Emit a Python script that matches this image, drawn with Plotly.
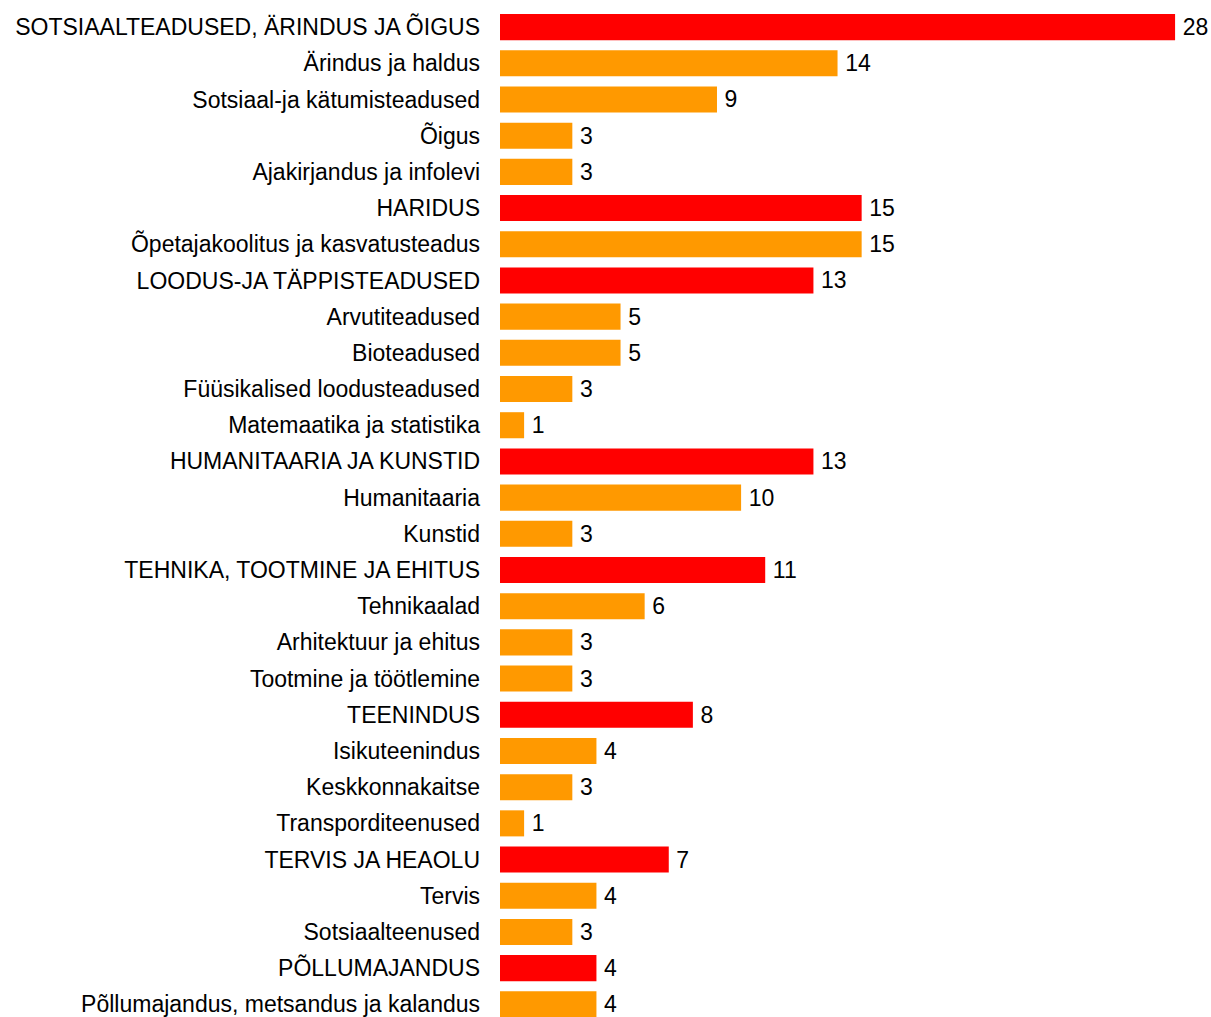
import plotly.graph_objects as go

categories = [
    "SOTSIAALTEADUSED, ÄRINDUS JA ÕIGUS",
    "Ärindus ja haldus",
    "Sotsiaal-ja kätumisteadused",
    "Õigus",
    "Ajakirjandus ja infolevi",
    "HARIDUS",
    "Õpetajakoolitus ja kasvatusteadus",
    "LOODUS-JA TÄPPISTEADUSED",
    "Arvutiteadused",
    "Bioteadused",
    "Füüsikalised loodusteadused",
    "Matemaatika ja statistika",
    "HUMANITAARIA JA KUNSTID",
    "Humanitaaria",
    "Kunstid",
    "TEHNIKA, TOOTMINE JA EHITUS",
    "Tehnikaalad",
    "Arhitektuur ja ehitus",
    "Tootmine ja töötlemine",
    "TEENINDUS",
    "Isikuteenindus",
    "Keskkonnakaitse",
    "Transporditeenused",
    "TERVIS JA HEAOLU",
    "Tervis",
    "Sotsiaalteenused",
    "PÕLLUMAJANDUS",
    "Põllumajandus, metsandus ja kalandus",
]
values = [28, 14, 9, 3, 3, 15, 15, 13, 5, 5, 3, 1, 13, 10, 3, 11, 6, 3, 3, 8, 4, 3, 1, 7, 4, 3, 4, 4]
is_main = [1, 0, 0, 0, 0, 1, 0, 1, 0, 0, 0, 0, 1, 0, 0, 1, 0, 0, 0, 1, 0, 0, 0, 1, 0, 0, 1, 0]

RED = "#FF0000"
ORANGE = "#FF9900"
colors = [RED if m else ORANGE for m in is_main]
FONT = "Liberation Sans, Arial, sans-serif"

fig = go.Figure(go.Bar(
    x=values,
    y=categories,
    orientation="h",
    marker=dict(color=colors, line=dict(width=0)),
    text=["\u2009" + str(v) for v in values],
    textposition="outside",
    cliponaxis=False,
    textfont=dict(family=FONT, size=23, color="#000000"),
    hoverinfo="skip",
))

fig.update_layout(
    width=1211,
    height=1017,
    margin=dict(l=500, r=0, t=9, b=0),
    paper_bgcolor="white",
    plot_bgcolor="white",
    bargap=0.28,
    showlegend=False,
    font=dict(family=FONT, size=23, color="#000000"),
)
fig.update_xaxes(range=[0, 29.49], visible=False, showgrid=False, zeroline=False)
fig.update_yaxes(
    categoryorder="array",
    categoryarray=categories,
    range=[27.35, -0.5],
    showgrid=False,
    zeroline=False,
    showline=False,
    ticks="",
    ticklabelstandoff=19,
    tickfont=dict(family=FONT, size=23, color="#000000"),
)

fig.write_html(
    "out.html",
    config={"displayModeBar": False},
    post_script="document.body.style.margin='0';document.body.style.overflow='hidden';",
)
